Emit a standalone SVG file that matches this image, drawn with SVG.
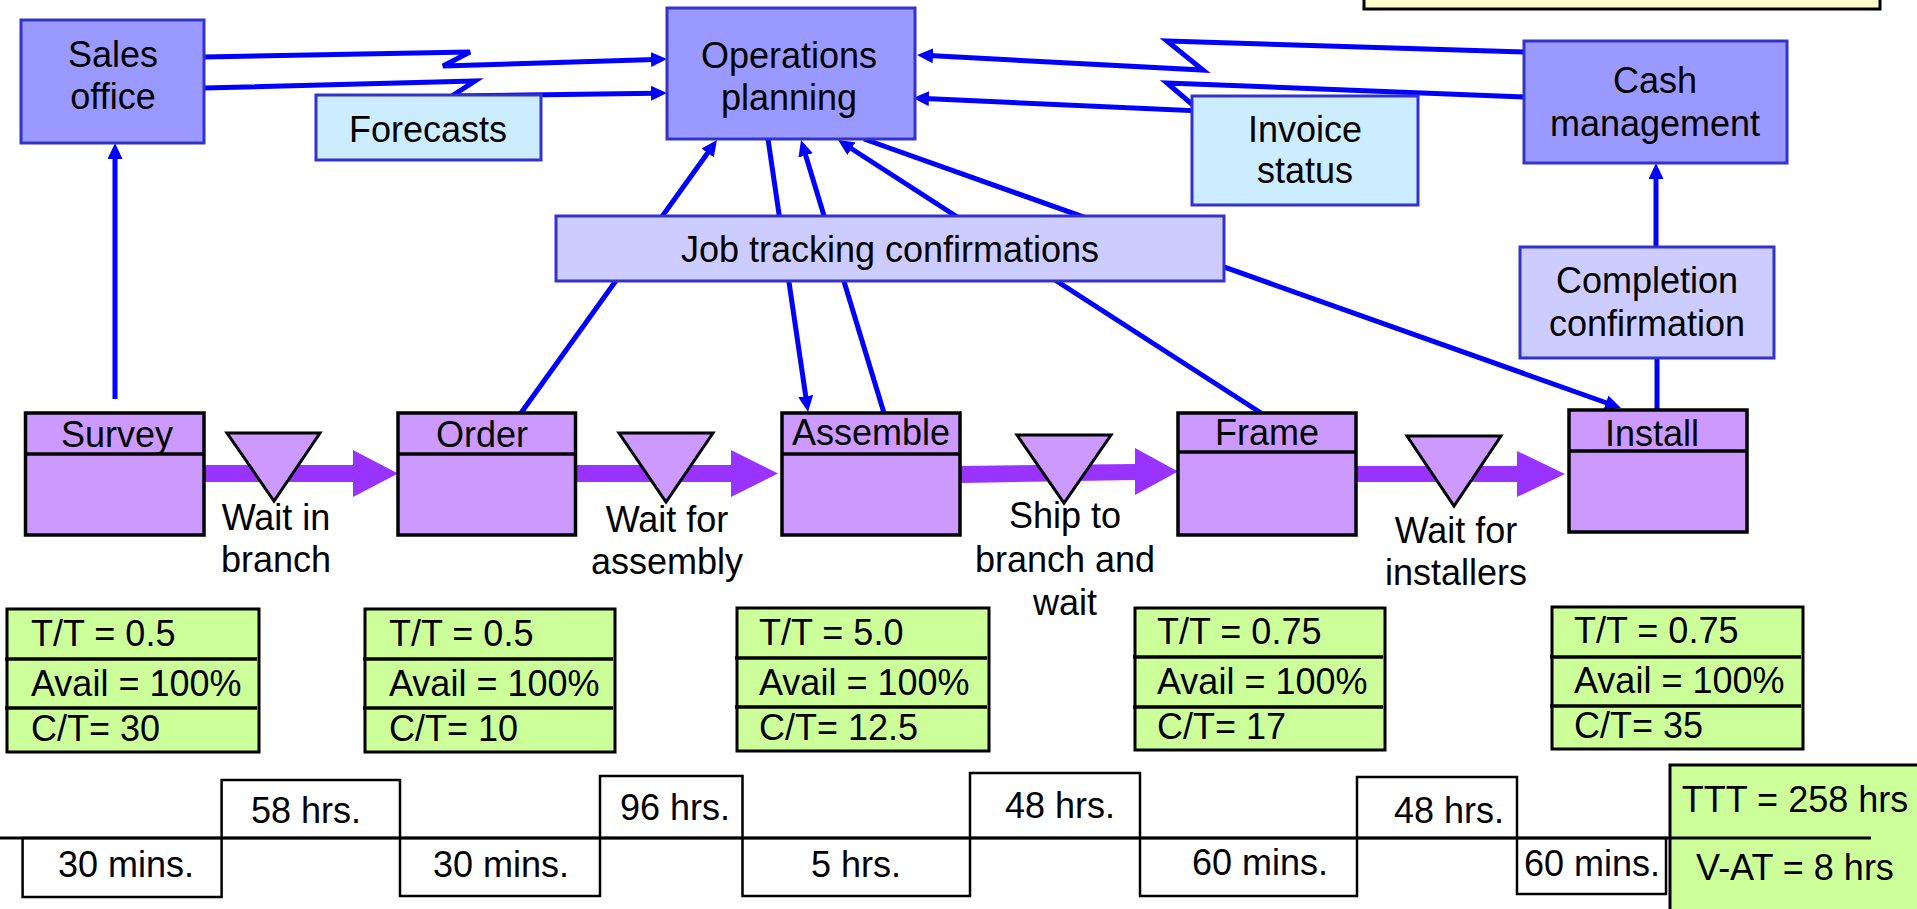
<svg xmlns="http://www.w3.org/2000/svg" width="1917" height="909" viewBox="0 0 1917 909">
  <defs>
    <style>
      text { font-family: "Liberation Sans", Arial, Helvetica, sans-serif; font-size: 36px; fill: #000; }
      .c { text-anchor: middle; }
      .sys { fill: #9999FF; stroke: #3333CC; stroke-width: 3; }
      .info { fill: #CCECFF; stroke: #3333CC; stroke-width: 3; }
      .conf { fill: #CCCCFF; stroke: #3333CC; stroke-width: 3; }
      .proc { fill: #CC99FF; stroke: #000; stroke-width: 3.5; }
      .div { stroke: #000; stroke-width: 3.5; }
      .inv { fill: #CC99FF; stroke: #000; stroke-width: 3; stroke-linejoin: miter; }
      .data { fill: #CCFF99; stroke: #000; stroke-width: 3; }
      .dline { stroke: #000; stroke-width: 3.5; }
      .tl { fill: #fff; stroke: #000; stroke-width: 2.5; }
      .blue { fill: none; stroke: #0000FF; stroke-width: 5; stroke-linejoin: miter; }
      .push { fill: #9933FF; }
    </style>
    <marker id="ah" markerUnits="userSpaceOnUse" markerWidth="16" markerHeight="15" refX="4" refY="7.5" orient="auto">
      <path d="M0,0 L16,7.5 L0,15 Z" fill="#0000FF"/>
    </marker>
  </defs>

  <!-- information and material flow connectors -->
  <g id="connectors">
    <!-- electronic links (lightning lines) -->
    <polyline class="blue" points="204,57 470,52 443,66 655,59.4" marker-end="url(#ah)"/>
    <polyline class="blue" points="204,88 475,81 452,96 655,93.2" marker-end="url(#ah)"/>
    <polyline class="blue" points="1524,52 1167,41 1203,70 929,55.6" marker-end="url(#ah)"/>
    <polyline class="blue" points="1524,97 1167,83 1200,111 925,98.5" marker-end="url(#ah)"/>
    <!-- vertical links -->
    <line class="blue" x1="115" y1="399" x2="115" y2="155" marker-end="url(#ah)"/>
    <line class="blue" x1="1656" y1="247" x2="1656" y2="175" marker-end="url(#ah)"/>
    <line class="blue" x1="1657" y1="409" x2="1657" y2="358"/>
    <!-- job tracking links -->
    <line class="blue" x1="521" y1="413" x2="710" y2="149.7" marker-end="url(#ah)"/>
    <line class="blue" x1="768" y1="139" x2="806.3" y2="400.1" marker-end="url(#ah)"/>
    <line class="blue" x1="884" y1="413" x2="804.5" y2="151.5" marker-end="url(#ah)"/>
    <line class="blue" x1="1261" y1="413" x2="848.1" y2="146.5" marker-end="url(#ah)"/>
    <line class="blue" x1="864" y1="139" x2="1609.7" y2="404" marker-end="url(#ah)"/>
    <!-- push arrows between processes -->
    <polygon class="push" points="204,465 353,465 353,450 398,473.5 353,497 353,482 204,482"/>
    <polygon class="push" points="575,465 731,465 731,450 778,473.5 731,497 731,482 575,482"/>
    <polygon class="push" points="960,466 1135,464 1135,448 1178,471.5 1135,495 1135,480 960,483"/>
    <polygon class="push" points="1356,466 1517,466 1517,451 1565,474 1517,497 1517,482 1356,482"/>
  </g>

  <!-- note box at the top edge -->
  <g id="note">
    <rect x="1364" y="-10" width="516" height="19" fill="#FFFFCC" stroke="#000" stroke-width="3"/>
  </g>

  <g id="sales-office">
    <rect class="sys" x="21" y="20" width="183" height="123"/>
    <text class="c" x="113" y="67">Sales</text>
    <text class="c" x="113" y="109">office</text>
  </g>

  <g id="operations-planning">
    <rect class="sys" x="667" y="8" width="248" height="131"/>
    <text class="c" x="789" y="68">Operations</text>
    <text class="c" x="789" y="110">planning</text>
  </g>

  <g id="cash-management">
    <rect class="sys" x="1524" y="41" width="263" height="122"/>
    <text class="c" x="1655" y="93">Cash</text>
    <text class="c" x="1655" y="136">management</text>
  </g>

  <g id="forecasts">
    <rect class="info" x="316" y="95" width="225" height="65"/>
    <text class="c" x="428" y="142">Forecasts</text>
  </g>

  <g id="invoice-status">
    <rect class="info" x="1192" y="96" width="226" height="109"/>
    <text class="c" x="1305" y="142">Invoice</text>
    <text class="c" x="1305" y="183">status</text>
  </g>

  <g id="job-tracking">
    <rect class="conf" x="556" y="216" width="668" height="65"/>
    <text class="c" x="890" y="262">Job tracking confirmations</text>
  </g>

  <g id="completion-confirmation">
    <rect class="conf" x="1520" y="247" width="254" height="111"/>
    <text class="c" x="1647" y="293">Completion</text>
    <text class="c" x="1647" y="336">confirmation</text>
  </g>

  <!-- process boxes -->
  <g id="survey">
    <rect class="proc" x="25.5" y="413" width="178.5" height="122"/>
    <line class="div" x1="25.5" y1="454" x2="204" y2="454"/>
    <text class="c" x="117" y="447">Survey</text>
  </g>
  <g id="order">
    <rect class="proc" x="398" y="413" width="177.5" height="122"/>
    <line class="div" x1="398" y1="454" x2="575.5" y2="454"/>
    <text class="c" x="482" y="447">Order</text>
  </g>
  <g id="assemble">
    <rect class="proc" x="782" y="413" width="178" height="122"/>
    <line class="div" x1="782" y1="454" x2="960" y2="454"/>
    <text class="c" x="871" y="445">Assemble</text>
  </g>
  <g id="frame">
    <rect class="proc" x="1178" y="413" width="178" height="122"/>
    <line class="div" x1="1178" y1="452" x2="1356" y2="452"/>
    <text class="c" x="1267" y="445">Frame</text>
  </g>
  <g id="install">
    <rect class="proc" x="1569" y="410" width="178" height="122"/>
    <line class="div" x1="1569" y1="451" x2="1747" y2="451"/>
    <text class="c" x="1652" y="446">Install</text>
  </g>

  <!-- inventory triangles and their labels -->
  <g id="wait-in-branch">
    <polygon class="inv" points="227,433 320,433 274,501"/>
    <text class="c" x="276" y="530">Wait in</text>
    <text class="c" x="276" y="572">branch</text>
  </g>
  <g id="wait-for-assembly">
    <polygon class="inv" points="619,433 713,433 666,502"/>
    <text class="c" x="667" y="532">Wait for</text>
    <text class="c" x="667" y="574">assembly</text>
  </g>
  <g id="ship-to-branch">
    <polygon class="inv" points="1017,435 1111,435 1064,503"/>
    <text class="c" x="1065" y="528">Ship to</text>
    <text class="c" x="1065" y="572">branch and</text>
    <text class="c" x="1065" y="615">wait</text>
  </g>
  <g id="wait-for-installers">
    <polygon class="inv" points="1407,436 1501,436 1454,506"/>
    <text class="c" x="1456" y="543">Wait for</text>
    <text class="c" x="1456" y="585">installers</text>
  </g>

  <!-- data boxes -->
  <g id="data-survey">
    <rect class="data" x="7" y="609" width="252" height="143"/>
    <line class="dline" x1="5" y1="659" x2="257" y2="659"/>
    <line class="dline" x1="5" y1="708" x2="257" y2="708"/>
    <text x="31" y="646">T/T = 0.5</text>
    <text x="31" y="696">Avail = 100%</text>
    <text x="31" y="741">C/T= 30</text>
  </g>
  <g id="data-order">
    <rect class="data" x="365" y="609" width="250" height="143"/>
    <line class="dline" x1="363" y1="659" x2="613" y2="659"/>
    <line class="dline" x1="363" y1="708" x2="613" y2="708"/>
    <text x="389" y="646">T/T = 0.5</text>
    <text x="389" y="696">Avail = 100%</text>
    <text x="389" y="741">C/T= 10</text>
  </g>
  <g id="data-assemble">
    <rect class="data" x="737" y="608" width="252" height="143"/>
    <line class="dline" x1="735" y1="658" x2="987" y2="658"/>
    <line class="dline" x1="735" y1="707" x2="987" y2="707"/>
    <text x="759" y="645">T/T = 5.0</text>
    <text x="759" y="695">Avail = 100%</text>
    <text x="759" y="740">C/T= 12.5</text>
  </g>
  <g id="data-frame">
    <rect class="data" x="1135" y="608" width="250" height="142"/>
    <line class="dline" x1="1133" y1="657" x2="1383" y2="657"/>
    <line class="dline" x1="1133" y1="707" x2="1383" y2="707"/>
    <text x="1157" y="644">T/T = 0.75</text>
    <text x="1157" y="694">Avail = 100%</text>
    <text x="1157" y="739">C/T= 17</text>
  </g>
  <g id="data-install">
    <rect class="data" x="1552" y="607" width="251" height="142"/>
    <line class="dline" x1="1550" y1="657" x2="1801" y2="657"/>
    <line class="dline" x1="1550" y1="706" x2="1801" y2="706"/>
    <text x="1574" y="643">T/T = 0.75</text>
    <text x="1574" y="693">Avail = 100%</text>
    <text x="1574" y="738">C/T= 35</text>
  </g>

  <!-- lead time ladder -->
  <g id="timeline">
    <rect class="tl" x="22.6" y="838" width="199" height="59"/>
    <text class="c" x="126" y="877">30 mins.</text>
    <rect class="tl" x="221.6" y="780" width="178.4" height="58"/>
    <text class="c" x="306" y="823">58 hrs.</text>
    <rect class="tl" x="400" y="838" width="200" height="58"/>
    <text class="c" x="501" y="877">30 mins.</text>
    <rect class="tl" x="600" y="776" width="142.5" height="62"/>
    <text class="c" x="675" y="820">96 hrs.</text>
    <rect class="tl" x="742.5" y="838" width="227.5" height="58"/>
    <text class="c" x="856" y="877">5 hrs.</text>
    <rect class="tl" x="970" y="773" width="170" height="65"/>
    <text class="c" x="1060" y="818">48 hrs.</text>
    <rect class="tl" x="1140" y="838" width="217" height="58"/>
    <text class="c" x="1260" y="875">60 mins.</text>
    <rect class="tl" x="1357" y="777" width="160" height="61"/>
    <text class="c" x="1449" y="823">48 hrs.</text>
    <rect class="tl" x="1517" y="838" width="149" height="56"/>
    <text class="c" x="1592" y="876">60 mins.</text>
  </g>

  <g id="totals">
    <rect class="data" x="1670" y="765" width="260" height="160"/>
    <text class="c" x="1795" y="812">TTT = 258 hrs</text>
    <text class="c" x="1795" y="880">V-AT = 8 hrs</text>
  </g>

  <g id="timeline-axis">
    <line x1="0" y1="838" x2="1871" y2="838" stroke="#000" stroke-width="3"/>
  </g>
</svg>
